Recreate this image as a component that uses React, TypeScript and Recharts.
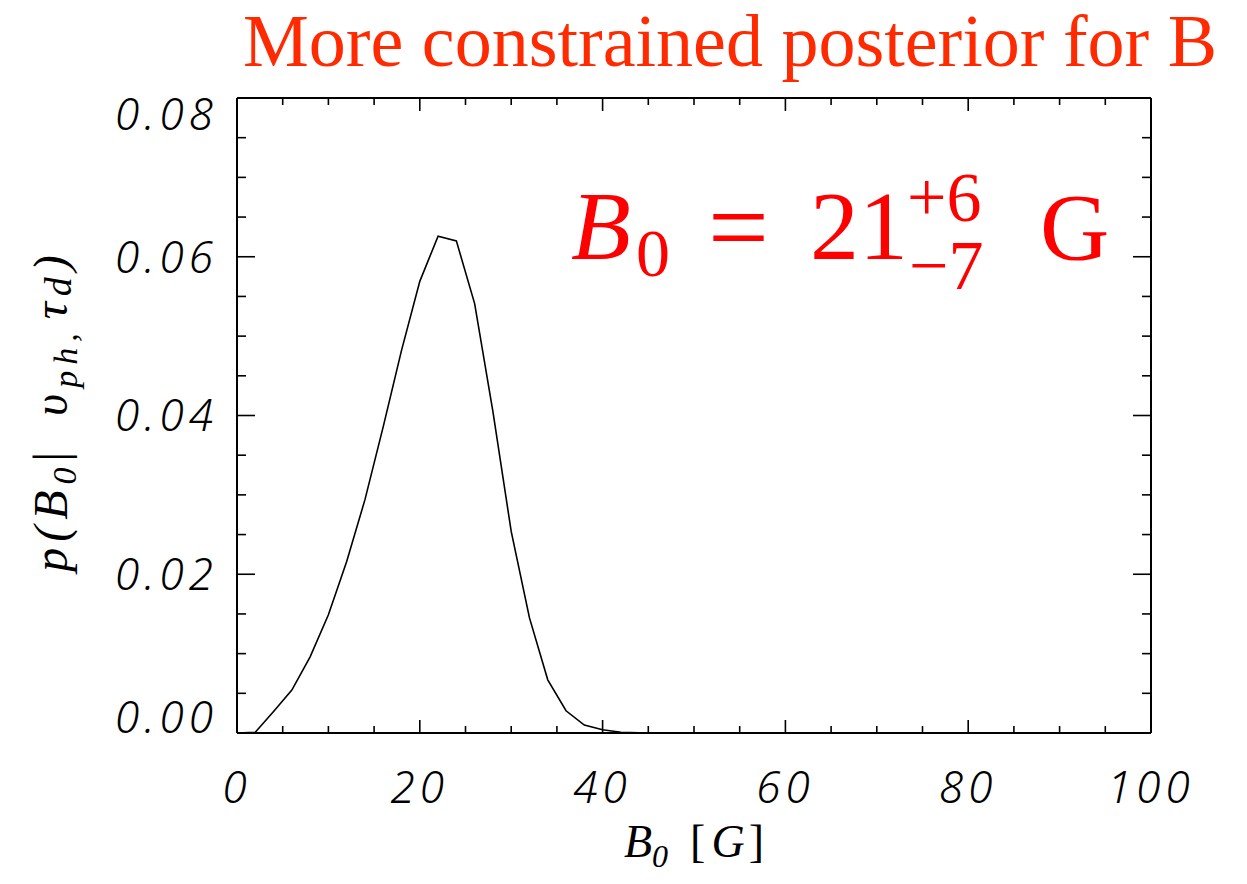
import { Label, Line, LineChart, XAxis, YAxis } from "recharts";

// B0 grid [G] and the posterior density
const fieldValues = [
	0, 2, 4, 6, 8, 10, 12, 14, 16, 18, 20, 22, 24, 26, 28, 30, 32, 34, 36, 38, 40,
	42, 44, 46, 48, 50, 52, 54, 56, 58, 60, 62, 64, 66, 68, 70, 72, 74, 76, 78, 80,
	82, 84, 86, 88, 90, 92, 94, 96, 98, 100,
];
const posterior = [
	0, 0.0001, 0.0027, 0.0054, 0.0096, 0.0149, 0.0216, 0.0294, 0.0386, 0.0482,
	0.0569, 0.0626, 0.062, 0.0541, 0.0405, 0.0254, 0.0145, 0.0067, 0.0028, 0.001,
	0.0004, 0.0001, 0.00003, 0, 0, 0, 0, 0, 0, 0, 0, 0, 0, 0, 0, 0, 0, 0, 0, 0, 0,
	0, 0, 0, 0, 0, 0, 0, 0, 0, 0,
];

const xMajorTicks = [0, 20, 40, 60, 80, 100];
const xMinorTicks = [
	5, 10, 15, 25, 30, 35, 45, 50, 55, 65, 70, 75, 85, 90, 95,
];
const yMajorTicks = [0, 0.02, 0.04, 0.06, 0.08];
const yMinorTicks = [
	0.005, 0.01, 0.015, 0.025, 0.03, 0.035, 0.045, 0.05, 0.055, 0.065, 0.07,
	0.075,
];

const chartData = fieldValues.map((b, i) => ({ b, p: posterior[i] }));
const allXTicks = [...xMajorTicks, ...xMinorTicks].sort((a, b) => a - b);
const allYTicks = [...yMajorTicks, ...yMinorTicks].sort((a, b) => a - b);

const xDomain: [number, number] = [0, 100];
const yDomain: [number, number] = [0, 0.08];

const tickFont = {
	fontFamily: "'Noto Sans', sans-serif",
	fontStyle: "italic",
	fontWeight: 300,
	fontSize: 44,
	letterSpacing: 5,
	fill: "#000",
};
const labelFont = "'Liberation Serif', serif";
const boxLine = { stroke: "#000", strokeWidth: 2 };

function YTick(props: any) {
	const { x, y, payload } = props;
	const v = payload.value as number;
	// first label sits on its tick, last one hangs below it, the rest are centred
	let dy = "0.36em";
	if (v === yMajorTicks[0]) dy = "0em";
	else if (v === yMajorTicks[yMajorTicks.length - 1]) dy = "0.72em";
	return (
		<text x={x} y={y} dy={dy} textAnchor="end" {...tickFont}>
			{v.toFixed(2)}
		</text>
	);
}

// tick mark pointing into the plot box; long for major values, short for minor
function InwardTick(props: any) {
	const { x, y, payload, side } = props;
	const v = payload.value as number;
	let x2 = x;
	let y2 = y;
	if (side === "bottom" || side === "top") {
		const len = xMajorTicks.includes(v) ? 13 : 7;
		y2 = side === "bottom" ? y - len : y + len;
	} else {
		const len = yMajorTicks.includes(v) ? 18 : 9;
		x2 = side === "left" ? x + len : x - len;
	}
	return <line x1={x} y1={y} x2={x2} y2={y2} stroke="#000" strokeWidth={1.6} />;
}

function XTitle(props: any) {
	const vb = props.viewBox;
	const cx = vb.x + vb.width / 2;
	const base = vb.y + 124;
	return (
		<text
			x={cx}
			y={base}
			textAnchor="middle"
			fontFamily={labelFont}
			fontSize={46}
			fill="#000"
		>
			<tspan fontStyle="italic">B</tspan>
			<tspan fontStyle="italic" fontSize={32} dy={10}>
				0
			</tspan>
			<tspan dy={-10} dx={22}>
				[
			</tspan>
			<tspan fontStyle="italic" dx={6}>
				G
			</tspan>
			<tspan dx={4}>]</tspan>
		</text>
	);
}

function YTitle(props: any) {
	const vb = props.viewBox;
	const cx = vb.x + 30;
	const cy = vb.y + vb.height / 2 - 5;
	return (
		<text
			x={cx}
			y={cy}
			transform={`rotate(-90 ${cx} ${cy})`}
			textAnchor="middle"
			fontFamily={labelFont}
			fontStyle="italic"
			fontSize={48}
			letterSpacing={6}
			fill="#000"
		>
			<tspan>p(B</tspan>
			<tspan fontSize={34} dy={9}>
				0
			</tspan>
			<tspan dy={-9} fontStyle="normal">
				|
			</tspan>
			<tspan dx={30}>υ</tspan>
			<tspan fontSize={34} dy={10}>
				ph,
			</tspan>
			<tspan dy={-10} dx={8}>
				τ
			</tspan>
			<tspan fontSize={38} dy={4}>
				d
			</tspan>
			<tspan dy={-4}>)</tspan>
		</text>
	);
}

const tickAxisProps = {
	type: "number" as const,
	allowDataOverflow: true,
	interval: 0 as const,
	mirror: true,
	tickLine: false,
	tickSize: 0,
	tickMargin: 0,
};

export default function App() {
	return (
		<div
			style={{
				position: "absolute",
				left: 0,
				top: 0,
				width: 1247,
				height: 884,
				background: "#fff",
			}}
		>
			<LineChart
				width={1247}
				height={884}
				data={chartData}
				margin={{ top: 98, right: 96, bottom: 51, left: 37 }}
			>
				<XAxis
					xAxisId="main"
					dataKey="b"
					type="number"
					domain={xDomain}
					ticks={xMajorTicks}
					interval={0}
					allowDataOverflow
					height={100}
					tickSize={0}
					tickMargin={39}
					tickLine={false}
					axisLine={boxLine}
					tick={tickFont}
				>
					<Label content={<XTitle />} />
				</XAxis>
				<YAxis
					yAxisId="main"
					type="number"
					domain={yDomain}
					ticks={yMajorTicks}
					interval={0}
					allowDataOverflow
					width={200}
					tickSize={0}
					tickMargin={19}
					tickLine={false}
					axisLine={boxLine}
					tick={<YTick />}
				>
					<Label content={<YTitle />} />
				</YAxis>
				{/* mirrored axes that only draw the inward tick marks and the box */}
				<XAxis
					xAxisId="bottomTicks"
					dataKey="b"
					orientation="bottom"
					domain={xDomain}
					ticks={allXTicks}
					axisLine={false}
					tick={<InwardTick side="bottom" />}
					{...tickAxisProps}
				/>
				<XAxis
					xAxisId="topTicks"
					dataKey="b"
					orientation="top"
					domain={xDomain}
					ticks={allXTicks}
					axisLine={boxLine}
					tick={<InwardTick side="top" />}
					{...tickAxisProps}
				/>
				<YAxis
					yAxisId="leftTicks"
					orientation="left"
					domain={yDomain}
					ticks={allYTicks}
					axisLine={false}
					tick={<InwardTick side="left" />}
					{...tickAxisProps}
				/>
				<YAxis
					yAxisId="rightTicks"
					orientation="right"
					domain={yDomain}
					ticks={allYTicks}
					axisLine={boxLine}
					tick={<InwardTick side="right" />}
					{...tickAxisProps}
				/>
				{/* invisible copies of the series so the tick axes get a scale */}
				<Line
					xAxisId="bottomTicks"
					yAxisId="leftTicks"
					dataKey="p"
					stroke="none"
					dot={false}
					activeDot={false}
					isAnimationActive={false}
				/>
				<Line
					xAxisId="topTicks"
					yAxisId="rightTicks"
					dataKey="p"
					stroke="none"
					dot={false}
					activeDot={false}
					isAnimationActive={false}
				/>
				<Line
					xAxisId="main"
					yAxisId="main"
					type="linear"
					dataKey="p"
					stroke="#000"
					strokeWidth={1.6}
					dot={false}
					activeDot={false}
					isAnimationActive={false}
				/>
			</LineChart>
			<svg
				width={1247}
				height={884}
				style={{ position: "absolute", left: 0, top: 0, pointerEvents: "none" }}
			>
				<text
					x={243}
					y={66}
					fontFamily={labelFont}
					fontSize={74}
					fill="#ff2a00"
				>
					More constrained posterior for B
				</text>
				<g fontFamily={labelFont} fill="#ff0000">
					<text x={571} y={259} fontSize={98} fontStyle="italic">
						B
					</text>
					<text x={636} y={276} fontSize={68}>
						0
					</text>
					<text x={708} y={263} fontSize={108}>
						=
					</text>
					<text x={810} y={259} fontSize={98}>
						21
					</text>
					<text x={907} y={221} fontSize={70}>
						+6
					</text>
					<text x={909} y={289} fontSize={70}>
						−7
					</text>
					<text x={1040} y={260} fontSize={96}>
						G
					</text>
				</g>
			</svg>
		</div>
	);
}
